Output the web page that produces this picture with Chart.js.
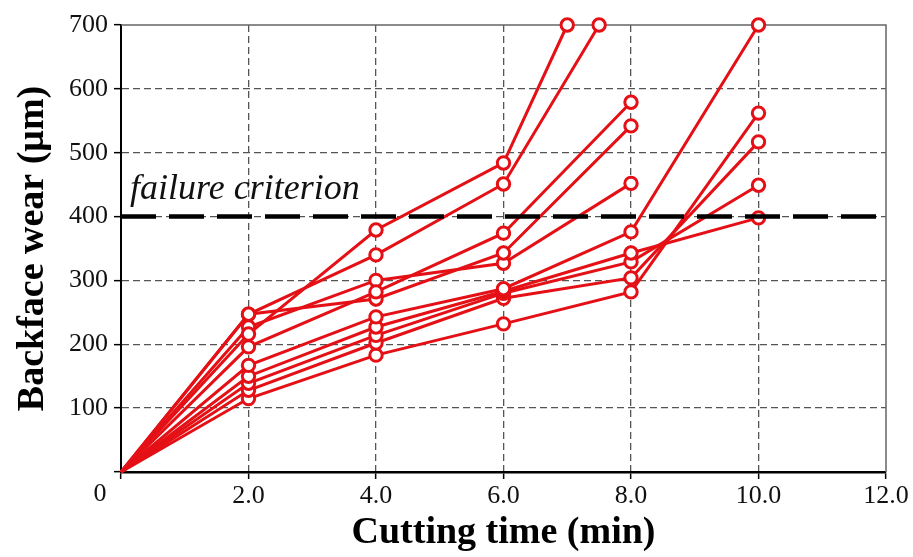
<!DOCTYPE html>
<html>
<head>
<meta charset="utf-8">
<script src="https://cdn.jsdelivr.net/npm/chart.js@4.4.1/dist/chart.umd.min.js"></script>
<style>
  html, body { margin: 0; padding: 0; background: #fff; }
</style>
</head>
<body>
<canvas id="wearChart" width="913" height="557"></canvas>
<script>
// cutting time (min) for each test
const timesA = [0, 2, 4, 6, 7];
const timesB = [0, 2, 4, 6, 7.5];
const timesTo8 = [0, 2, 4, 6, 8];
const timesTo10 = [0, 2, 4, 6, 8, 10];

// backface wear (um)
const wear1 = [0, 216, 379, 484, 700];
const wear2 = [0, 247, 340, 451, 700];
const wear3 = [0, 196, 282, 374, 579];
const wear4 = [0, 247, 271, 343, 542];
const wear5 = [0, 227, 300, 327, 452];
const wear6 = [0, 167, 243, 287, 376, 700];
const wear7 = [0, 150, 227, 283, 343, 398];
const wear8 = [0, 139, 214, 280, 329, 449];
const wear9 = [0, 128, 202, 272, 304, 517];
const wear10 = [0, 115, 183, 232, 282, 562];

const failureTimes = [0, 12];
const failureWear = [400, 400];

const xTicks = [0, 2, 4, 6, 8, 10, 12];
const yTicks = [0, 100, 200, 300, 400, 500, 600, 700];

const tests = [
    [timesA, wear1], [timesB, wear2],
    [timesTo8, wear3], [timesTo8, wear4], [timesTo8, wear5],
    [timesTo10, wear6], [timesTo10, wear7], [timesTo10, wear8],
    [timesTo10, wear9], [timesTo10, wear10]
];

const RED = 'rgb(228, 16, 22)';

function toPoints(xs, ys) {
    return xs.map((x, i) => ({ x: x, y: ys[i] }));
}

let datasets = [];

// dataset 0 is drawn last, so the criterion sits on top of the red lines
datasets.push({
    data: toPoints(failureTimes, failureWear),
    borderColor: '#000',
    borderWidth: 4.5,
    borderDash: [35, 13],
    pointRadius: 0,
    fill: false,
    clip: false
});

tests.forEach(t => {
    datasets.push({
        data: toPoints(t[0], t[1]),
        borderColor: RED,
        borderWidth: 3,
        pointRadius: ctx => ctx.dataIndex === 0 ? 0 : 6.2,
        pointBorderWidth: 3,
        pointBorderColor: RED,
        pointBackgroundColor: '#fff',
        fill: false,
        tension: 0,
        clip: false
    });
});

// frame, corner "0" and the criterion label
const extrasPlugin = {
    id: 'extras',
    beforeDatasetsDraw(chart) {
        const a = chart.chartArea;
        const ctx = chart.ctx;
        ctx.save();
        ctx.strokeStyle = '#666';
        ctx.lineWidth = 1.5;
        ctx.beginPath();
        ctx.moveTo(a.left, a.top);
        ctx.lineTo(a.right, a.top);
        ctx.lineTo(a.right, a.bottom);
        ctx.stroke();
        ctx.restore();
    },
    afterDraw(chart) {
        const a = chart.chartArea;
        const ctx = chart.ctx;
        const yPix = chart.scales.y.getPixelForValue(400);
        ctx.save();
        ctx.fillStyle = '#111';
        ctx.font = 'italic 36px "Liberation Serif"';
        ctx.textBaseline = 'alphabetic';
        ctx.textAlign = 'left';
        ctx.fillText('failure criterion', a.left + 9, yPix - 18);
        ctx.font = '26px "Liberation Serif"';
        ctx.textAlign = 'center';
        ctx.textBaseline = 'middle';
        ctx.fillText('0', a.left - 21, a.bottom + 22);
        ctx.restore();
    }
};

const grayGrid = (ctx, last) => {
    const v = ctx.tick ? ctx.tick.value : null;
    return (v === 0 || v === last) ? 'rgba(0,0,0,0)' : '#555';
};

new Chart(document.getElementById('wearChart'), {
    type: 'line',
    data: { datasets: datasets },
    plugins: [extrasPlugin],
    options: {
        responsive: false,
        animation: false,
        layout: { padding: { top: 25, right: 27, left: 0, bottom: 0 } },
        plugins: {
            legend: { display: false },
            tooltip: { enabled: false }
        },
        scales: {
            x: {
                type: 'linear',
                min: xTicks[0],
                max: xTicks[xTicks.length - 1],
                afterBuildTicks: s => { s.ticks = xTicks.map(v => ({ value: v })); },
                afterFit: s => { s.height = 85; },
                ticks: {
                    color: '#111',
                    font: { family: 'Liberation Serif', size: 26 },
                    padding: 2,
                    maxRotation: 0,
                    callback: v => v === 0 ? '' : v.toFixed(1)
                },
                grid: {
                    color: ctx => grayGrid(ctx, 12),
                    lineWidth: 1.3,
                    tickColor: '#000',
                    tickLength: 7,
                    tickWidth: 1.5
                },
                border: { display: true, color: '#000', width: 2.5, dash: [7, 4] },
                title: {
                    display: true,
                    text: 'Cutting time (min)',
                    color: '#000',
                    font: { family: 'Liberation Serif', size: 38, weight: 'bold' },
                    padding: { top: 0, bottom: 1 }
                }
            },
            y: {
                type: 'linear',
                min: yTicks[0],
                max: yTicks[yTicks.length - 1],
                afterBuildTicks: s => { s.ticks = yTicks.map(v => ({ value: v })); },
                afterFit: s => { s.width = 121; },
                ticks: {
                    color: '#111',
                    font: { family: 'Liberation Serif', size: 26 },
                    padding: 6,
                    callback: v => v === 0 ? '' : String(v)
                },
                grid: {
                    color: ctx => grayGrid(ctx, 700),
                    lineWidth: 1.3,
                    tickColor: '#000',
                    tickLength: 7,
                    tickWidth: 1.5
                },
                border: { display: true, color: '#000', width: 2, dash: [7, 4] },
                title: {
                    display: true,
                    text: 'Backface wear (μm)',
                    color: '#000',
                    font: { family: 'Liberation Serif', size: 38, weight: 'bold' },
                    padding: { top: 10, bottom: 0 }
                }
            }
        }
    }
});
</script>
</body>
</html>
